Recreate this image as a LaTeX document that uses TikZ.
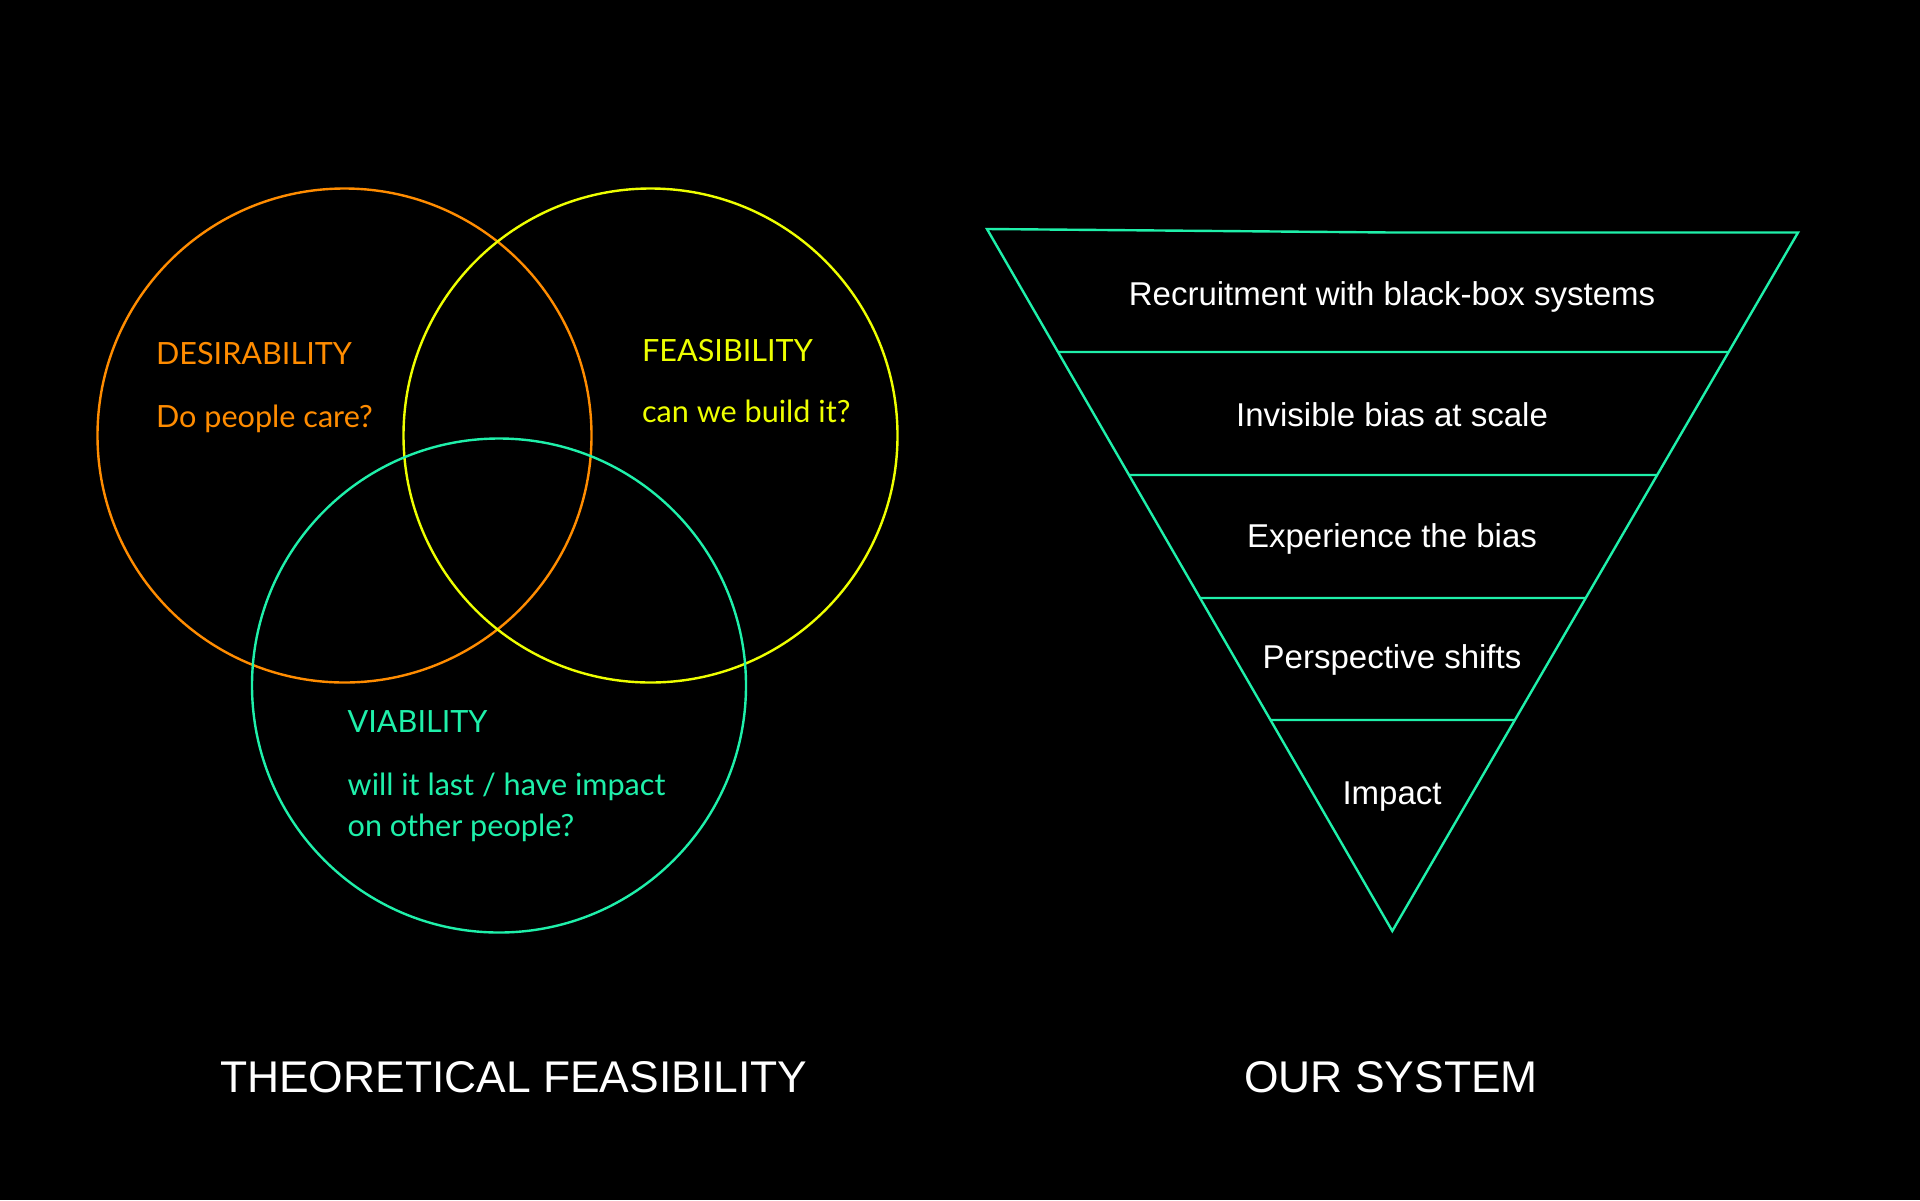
\documentclass[tikz,border=0pt]{standalone}
\usepackage{fontspec}
\setmainfont{Liberation Sans}
\newfontfamily\vennfont{Lato}
\usetikzlibrary{calc}
\definecolor{cOrange}{HTML}{FF8C00}
\definecolor{cYellow}{HTML}{EEFF00}
\definecolor{cGreen}{HTML}{1FF0AA}
\tikzset{
  venn/.style={circle, draw=#1, line width=1.2pt, minimum size=247pt, inner sep=0pt},
  vhead/.style={text=#1, anchor=base west, font=\vennfont\fontsize{15.3pt}{18pt}\selectfont, inner sep=0pt},
  funnelline/.style={draw=cGreen, line width=1.2pt, line join=miter},
  flabel/.style={text=white, anchor=base, font=\fontsize{16.5pt}{19pt}\selectfont, inner sep=0pt},
  title/.style={text=white, anchor=base, font=\fontsize{22.2pt}{26pt}\selectfont, inner sep=0pt},
}
\begin{document}
\begin{tikzpicture}[x=0.5pt, y=-0.5pt]
\fill[black] (0,0) rectangle (1920,1200);
\useasboundingbox (0,0) rectangle (1920,1200);

% Venn circles
\node[venn=cOrange] (des) at (344.5,435.5) {};
\node[venn=cYellow] (fea) at (650.5,435.5) {};
\node[venn=cGreen]  (via) at (499,685.5) {};

% Venn labels
\node[vhead=cOrange] (desT) at (155.7,364.3) {DESIRABILITY};
\node[vhead=cOrange] (desQ) at (155.7,427.3) {Do people care?};
\node[vhead=cYellow] (feaT) at (641.7,361.7) {FEASIBILITY};
\node[vhead=cYellow] (feaQ) at (641.7,422.7) {can we build it?};
\node[vhead=cGreen] (viaT) at (347.3,732.7) {VIABILITY};
\node[vhead=cGreen] (viaQ1) at (347.3,795) {will it last / have impact};
\node[vhead=cGreen] (viaQ2) at (347.3,836.7) {on other people?};

% Funnel
\coordinate (A) at (987,229);
\coordinate (M) at (1392,232.5);
\coordinate (B) at (1798,232.5);
\coordinate (C) at (1392.3,931);
\draw[funnelline] (A) -- (M) -- (B) -- (C) -- cycle;
\coordinate (l1) at ($(A)!0.1752!(C)$);
\coordinate (r1) at ($(B)!0.1711!(C)$);
\coordinate (l2) at ($(A)!0.3504!(C)$);
\coordinate (r2) at ($(B)!0.3472!(C)$);
\coordinate (l3) at ($(A)!0.5256!(C)$);
\coordinate (r3) at ($(B)!0.5233!(C)$);
\coordinate (l4) at ($(A)!0.6994!(C)$);
\coordinate (r4) at ($(B)!0.6979!(C)$);
\draw[funnelline] (l1) -- (r1);
\draw[funnelline] (l2) -- (r2);
\draw[funnelline] (l3) -- (r3);
\draw[funnelline] (l4) -- (r4);

\node[flabel] (f1) at (1392,305) {Recruitment with black-box systems};
\node[flabel] (f2) at (1392,426) {Invisible bias at scale};
\node[flabel] (f3) at (1392,547.5) {Experience the bias};
\node[flabel] (f4) at (1392,668.6) {Perspective shifts};
\node[flabel] (f5) at (1392,804) {Impact};

% Titles
\node[title] (t1) at (513.6,1092.3) {THEORETICAL FEASIBILITY};
\node[title] (t2) at (1391,1092.3) {OUR SYSTEM};
\end{tikzpicture}
\end{document}
